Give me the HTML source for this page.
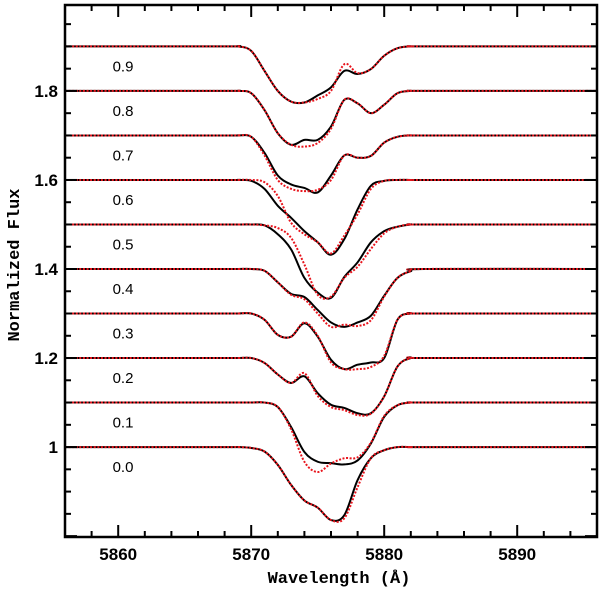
<!DOCTYPE html>
<html><head><meta charset="utf-8"><style>
html,body{margin:0;padding:0;background:#fff;}
svg{display:block;}
text{font-family:"Liberation Sans",sans-serif;}
.mono{font-family:"Liberation Mono",monospace;font-weight:bold;}
</style></head><body>
<svg id="chart" width="600" height="591" viewBox="0 0 600 591" xmlns="http://www.w3.org/2000/svg">
<g id="grid"></g>
</svg>
<script>
const lambdas = [5868,5869,5870,5871,5872,5873,5874,5875,5876,5877,5878,5879,5880,5881,5882,5883];
const phases = ["0.0","0.1","0.2","0.3","0.4","0.5","0.6","0.7","0.8","0.9"];
const offsets = [0,0.1,0.2,0.3,0.4,0.5,0.6,0.7,0.8,0.9];
const obs00=[0,0,.002,.01,.04,.085,.12,.136,.164,.153,.074,.025,.007,0,0,0];
const mod00=[0,0,.002,.01,.04,.085,.12,.136,.164,.16,.09,.025,.007,0,0,0];
const obs01=[0,0,0,0,.01,.055,.111,.133,.136,.139,.13,.092,.032,.006,0,0];
const mod01=[0,0,0,0,.01,.06,.133,.156,.137,.125,.123,.09,.03,.006,0,0];
const obs02=[0,0,0,.011,.037,.056,.041,.079,.105,.112,.124,.124,.086,.019,0,0];
const mod02=[0,0,0,.011,.037,.056,.034,.085,.11,.117,.128,.125,.086,.019,0,0];
const obs03=[0,0,0,.014,.048,.052,.022,.052,.104,.125,.115,.11,.1,.014,0,0];
const mod03=[0,0,0,.014,.048,.052,.02,.05,.11,.125,.125,.12,.095,.014,0,0];
const obs04=[0,0,0,.004,.03,.056,.063,.092,.12,.13,.12,.105,.06,.02,.005,0];
const mod04=[0,0,0,.004,.03,.058,.068,.10,.13,.125,.128,.115,.062,.02,.005,0];
const obs05=[0,0,0,.002,.022,.056,.12,.153,.165,.118,.085,.04,.015,.005,0,0];
const mod05=[0,0,0,.002,.008,.03,.09,.158,.162,.12,.095,.055,.02,.005,0,0];
const obs06=[0,0,.002,.02,.058,.085,.115,.14,.168,.133,.066,.013,.002,0,0,0];
const mod06=[0,0,0,.005,.036,.096,.122,.14,.165,.125,.077,.02,.002,0,0,0];
const obs07=[0,0,.003,.039,.09,.11,.118,.128,.09,.045,.05,.046,.016,.003,0,0];
const mod07=[0,0,.003,.045,.10,.12,.125,.122,.10,.045,.05,.046,.016,.003,0,0];
const obs08=[0,0,.005,.043,.095,.121,.11,.11,.08,.02,.028,.05,.031,.005,0,0];
const mod08=[0,0,.005,.043,.095,.121,.125,.117,.085,.02,.028,.05,.031,.005,0,0];
const obs09=[0,0,.01,.055,.10,.124,.126,.11,.092,.055,.062,.051,.021,.004,0,0];
const mod09=[0,0,.01,.055,.10,.124,.126,.118,.10,.04,.06,.051,.021,.004,0,0];
const observed=[obs00,obs01,obs02,obs03,obs04,obs05,obs06,obs07,obs08,obs09];
const models=[mod00,mod01,mod02,mod03,mod04,mod05,mod06,mod07,mod08,mod09];
const xTicks=[5860,5870,5880,5890];
const xTickLabels=["5860","5870","5880","5890"];
const yTicks=[1,1.2,1.4,1.6,1.8];
const yTickLabels=["1","1.2","1.4","1.6","1.8"];

const L=65,R=597,T=5,B=537, XMIN=5856,XMAX=5896,YMIN=0.798,YMAX=1.993;
const sx=v=>L+(v-XMIN)/(XMAX-XMIN)*(R-L);
const sy=v=>B-(v-YMIN)/(YMAX-YMIN)*(B-T);
const svg=document.getElementById('chart');
const NS="http://www.w3.org/2000/svg";
function mk(tag,attrs,parent){const e=document.createElementNS(NS,tag);for(const k in attrs)e.setAttribute(k,attrs[k]);(parent||svg).appendChild(e);return e;}

function pathFor(depths,off){
  const pts=[[sx(XMIN),sy(1+off)]];
  for(let i=0;i<lambdas.length;i++)pts.push([sx(lambdas[i]),sy(1+off-depths[i])]);
  pts.push([sx(XMAX),sy(1+off)]);
  let d="M"+pts[0][0].toFixed(2)+","+pts[0][1].toFixed(2);
  for(let i=0;i<pts.length-1;i++){
    const p0=pts[Math.max(0,i-1)],p1=pts[i],p2=pts[i+1],p3=pts[Math.min(pts.length-1,i+2)];
    const c1=[p1[0]+(p2[0]-p0[0])/6,p1[1]+(p2[1]-p0[1])/6];
    const c2=[p2[0]-(p3[0]-p1[0])/6,p2[1]-(p3[1]-p1[1])/6];
    d+=" C"+c1[0].toFixed(2)+","+c1[1].toFixed(2)+" "+c2[0].toFixed(2)+","+c2[1].toFixed(2)+" "+p2[0].toFixed(2)+","+p2[1].toFixed(2);
  }
  return d;
}

for(let k=0;k<phases.length;k++){
  const o=mk('path',{d:pathFor(observed[k],offsets[k]),fill:'none',stroke:'#000','stroke-width':2});
  
  
  const m=mk('path',{d:pathFor(models[k],offsets[k]),fill:'none',stroke:'#e8141c','stroke-width':2,'stroke-dasharray':'2 1.6'});
  
  
  const t=mk('text',{x:123,y:sy(1+offsets[k])+25,'text-anchor':'middle','font-size':15});
  
  
  t.textContent=phases[k];
}

for(let v=5856;v<=5896;v+=2){
  const major=(v%10===0);const len=major?12:6;
  const a=mk('line',{x1:sx(v),x2:sx(v),y1:B,y2:B-len,stroke:'#000','stroke-width':2});
  
  
  const b=mk('line',{x1:sx(v),x2:sx(v),y1:T,y2:T+len,stroke:'#000','stroke-width':2});
  
  
}
for(let i=0;i<24;i++){
  const v=0.8+i*0.05; if(v>YMAX)break;
  const major=(Math.round(v*100)%20===0);const len=major?12:6;
  const a=mk('line',{x1:L,x2:L+len,y1:sy(v),y2:sy(v),stroke:'#000','stroke-width':2});
  
  
  const b=mk('line',{x1:R,x2:R-len,y1:sy(v),y2:sy(v),stroke:'#000','stroke-width':2});
  
  
}
xTicks.forEach((v,i)=>{
  const t=mk('text',{x:sx(v),y:560,'text-anchor':'middle','font-size':17,'font-weight':'bold'});
  
  
  t.textContent=xTickLabels[i];
});
yTicks.forEach((v,i)=>{
  const t=mk('text',{x:58,y:sy(v)+6,'text-anchor':'end','font-size':17,'font-weight':'bold'});
  
  
  t.textContent=yTickLabels[i];
});
const fr=mk('rect',{x:L,y:T,width:R-L,height:B-T,fill:'none',stroke:'#000','stroke-width':2.5});


const xl=mk('text',{x:339,y:583,'text-anchor':'middle','font-size':17,class:'mono'});


xl.textContent="Wavelength (Å)";
const yl=mk('text',{x:0,y:0,'text-anchor':'middle','font-size':17,class:'mono',transform:'translate(19,265) rotate(-90)'});


yl.textContent="Normalized Flux";
</script>
</body></html>
